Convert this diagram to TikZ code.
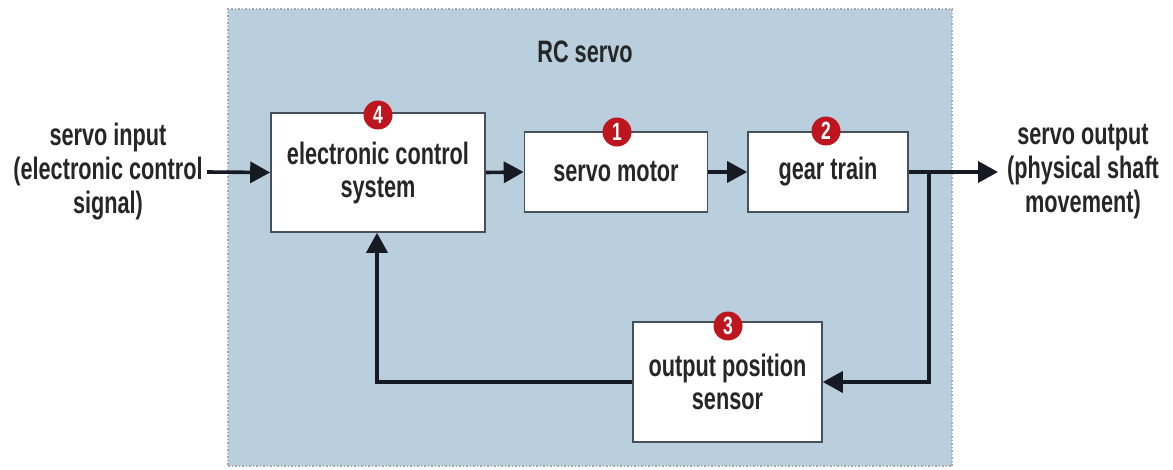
\documentclass[tikz,border=0pt]{standalone}
\usepackage{fontspec}
\setmainfont{Liberation Sans}[FakeStretch=0.7]
\usetikzlibrary{arrows.meta}
\definecolor{panelblue}{RGB}{185,207,221}
\definecolor{boxline}{RGB}{70,80,90}
\definecolor{arrowcol}{RGB}{22,26,34}
\definecolor{badgered}{RGB}{190,22,30}
\begin{document}
\begin{tikzpicture}[x=1pt,y=-1pt,
  lab/.style={font=\bfseries\fontsize{31}{34}\selectfont, text=black!85, align=center, inner sep=0pt},
  blk/.style={draw=boxline, line width=1.6pt, fill=white, lab},
  badge/.style={circle, fill=badgered, text=white, minimum size=29pt, inner sep=0pt, font=\bfseries\fontsize{25}{25}\selectfont},
  flow/.style={draw=arrowcol, line width=3.6pt, -{Triangle[length=20pt,width=21pt]}},
  wire/.style={draw=arrowcol, line width=3.6pt}]
\useasboundingbox (0,0) rectangle (1173,469);
\fill[white] (0,0) rectangle (1173,469);
\node[draw=gray!70, dotted, line width=1.5pt, fill=panelblue, minimum width=724pt, minimum height=457pt, inner sep=0pt] (panel) at (590,237.5) {};
\node[lab] (title) at (585,52) {RC servo};
\node[blk, minimum width=214pt, minimum height=119pt] (ecs) at (378,172.5) {electronic control\\[-1pt]system};
\node[blk, minimum width=183pt, minimum height=80pt] (motor) at (616,172) {servo motor};
\node[blk, minimum width=160pt, minimum height=80pt] (gear) at (828,172) {gear train};
\node[blk, minimum width=189pt, minimum height=120pt] (sensor) at (727.5,382) {output position\\[-1pt]sensor};
\node[badge] (b4) at (378,115) {4};
\node[badge] (b1) at (617,132) {1};
\node[badge] (b2) at (826,131) {2};
\node[badge] (b3) at (728,326) {3};
\node[lab] (in) at (108,172) {servo input\\(electronic control\\signal)};
\node[lab] (out) at (1083,172) {servo output\\(physical shaft\\movement)};
\coordinate (inl) at (207,172);
\coordinate (outr) at (998,172);
\coordinate (br) at (929,172);
\coordinate (brd) at (929,382);
\coordinate (fbc) at (377,382);
\draw[flow] (inl) -- (ecs.west);
\draw[flow] (ecs.east) -- (motor.west);
\draw[flow] (motor.east) -- (gear.west);
\draw[flow] (gear.east) -- (outr);
\draw[flow] (br) -- (brd) -- (sensor.east);
\draw[flow] (sensor.west) -- (fbc) -- (ecs.south -| fbc);
\end{tikzpicture}
\end{document}
